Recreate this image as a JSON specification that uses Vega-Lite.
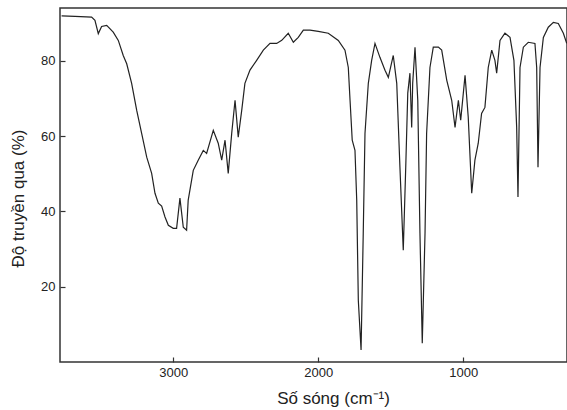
{
  "$schema": "https://vega.github.io/schema/vega-lite/v6.json",
  "width": 507,
  "height": 354,
  "autosize": {"type": "none"},
  "padding": {"left": 60, "top": 8, "right": 0, "bottom": 48},
  "background": "white",
  "config": {
    "view": {"stroke": "#333", "strokeWidth": 1.5},
    "font": "Liberation Sans"
  },
  "data": {
    "values": [
      {"wn": 3770, "t": 91.9}, {"wn": 3678, "t": 91.8}, {"wn": 3563, "t": 91.6}, {"wn": 3540, "t": 90.7},
      {"wn": 3517, "t": 87.2}, {"wn": 3494, "t": 89.1}, {"wn": 3459, "t": 89.4}, {"wn": 3414, "t": 87.6},
      {"wn": 3379, "t": 85.4}, {"wn": 3345, "t": 81.4}, {"wn": 3321, "t": 79.2}, {"wn": 3287, "t": 74.0},
      {"wn": 3252, "t": 66.8}, {"wn": 3218, "t": 60.7}, {"wn": 3183, "t": 54.4}, {"wn": 3149, "t": 50.1},
      {"wn": 3126, "t": 44.8}, {"wn": 3103, "t": 42.2}, {"wn": 3080, "t": 41.4}, {"wn": 3057, "t": 38.5},
      {"wn": 3034, "t": 36.3}, {"wn": 3000, "t": 35.5}, {"wn": 2977, "t": 35.5}, {"wn": 2954, "t": 43.5},
      {"wn": 2931, "t": 35.8}, {"wn": 2908, "t": 35.0}, {"wn": 2897, "t": 43.0}, {"wn": 2862, "t": 50.9},
      {"wn": 2828, "t": 53.6}, {"wn": 2793, "t": 56.2}, {"wn": 2770, "t": 55.4}, {"wn": 2724, "t": 61.5},
      {"wn": 2690, "t": 58.1}, {"wn": 2666, "t": 53.6}, {"wn": 2643, "t": 58.9}, {"wn": 2621, "t": 50.1},
      {"wn": 2597, "t": 60.7}, {"wn": 2574, "t": 69.5}, {"wn": 2552, "t": 59.7}, {"wn": 2528, "t": 66.8},
      {"wn": 2506, "t": 74.0}, {"wn": 2471, "t": 77.5}, {"wn": 2425, "t": 80.1}, {"wn": 2379, "t": 82.8},
      {"wn": 2333, "t": 84.6}, {"wn": 2287, "t": 84.6}, {"wn": 2252, "t": 85.4}, {"wn": 2207, "t": 87.3},
      {"wn": 2172, "t": 84.9}, {"wn": 2138, "t": 86.2}, {"wn": 2103, "t": 88.1}, {"wn": 2057, "t": 88.1},
      {"wn": 2000, "t": 87.8}, {"wn": 1931, "t": 87.3}, {"wn": 1862, "t": 85.4}, {"wn": 1816, "t": 82.8},
      {"wn": 1793, "t": 78.2}, {"wn": 1781, "t": 69.5}, {"wn": 1766, "t": 58.9}, {"wn": 1747, "t": 56.2},
      {"wn": 1735, "t": 43.0}, {"wn": 1724, "t": 16.4}, {"wn": 1705, "t": 3.2}, {"wn": 1690, "t": 34.2},
      {"wn": 1678, "t": 60.7}, {"wn": 1655, "t": 74.0}, {"wn": 1632, "t": 80.1}, {"wn": 1609, "t": 84.6},
      {"wn": 1575, "t": 80.9}, {"wn": 1540, "t": 77.5}, {"wn": 1517, "t": 75.6}, {"wn": 1483, "t": 81.4},
      {"wn": 1459, "t": 74.0}, {"wn": 1437, "t": 51.7}, {"wn": 1414, "t": 29.7}, {"wn": 1397, "t": 51.7},
      {"wn": 1383, "t": 71.4}, {"wn": 1368, "t": 76.7}, {"wn": 1356, "t": 62.3}, {"wn": 1349, "t": 74.0},
      {"wn": 1333, "t": 83.6}, {"wn": 1314, "t": 69.5}, {"wn": 1299, "t": 34.2}, {"wn": 1283, "t": 5.0},
      {"wn": 1264, "t": 34.2}, {"wn": 1253, "t": 60.7}, {"wn": 1230, "t": 78.2}, {"wn": 1207, "t": 83.6},
      {"wn": 1172, "t": 83.6}, {"wn": 1149, "t": 82.8}, {"wn": 1114, "t": 74.8}, {"wn": 1080, "t": 69.5},
      {"wn": 1057, "t": 62.3}, {"wn": 1034, "t": 69.5}, {"wn": 1018, "t": 64.2}, {"wn": 988, "t": 76.1},
      {"wn": 966, "t": 65.0}, {"wn": 942, "t": 44.8}, {"wn": 920, "t": 53.6}, {"wn": 897, "t": 58.1},
      {"wn": 874, "t": 66.0}, {"wn": 851, "t": 67.6}, {"wn": 828, "t": 78.2}, {"wn": 804, "t": 82.8},
      {"wn": 782, "t": 80.1}, {"wn": 770, "t": 76.7}, {"wn": 747, "t": 85.4}, {"wn": 713, "t": 87.3},
      {"wn": 678, "t": 86.2}, {"wn": 651, "t": 80.1}, {"wn": 632, "t": 62.3}, {"wn": 623, "t": 43.8},
      {"wn": 609, "t": 78.2}, {"wn": 586, "t": 83.6}, {"wn": 552, "t": 84.9}, {"wn": 506, "t": 84.6},
      {"wn": 494, "t": 78.2}, {"wn": 485, "t": 51.7}, {"wn": 471, "t": 78.2}, {"wn": 448, "t": 86.2},
      {"wn": 414, "t": 88.9}, {"wn": 379, "t": 90.2}, {"wn": 345, "t": 89.9}, {"wn": 310, "t": 87.3},
      {"wn": 287, "t": 84.6}
    ]
  },
  "mark": {"type": "line", "color": "#222", "strokeWidth": 1.2, "clip": true},
  "encoding": {
    "x": {
      "field": "wn", "type": "quantitative",
      "scale": {"domain": [285, 3781], "reverse": true, "nice": false, "zero": false},
      "axis": {
        "values": [3000, 2000, 1000], "format": "d", "grid": false, "domain": false,
        "offset": -5, "tickSize": 5, "tickColor": "#333", "tickWidth": 1.2, "labelPadding": 4,
        "labelFontSize": 13, "labelColor": "#222",
        "title": "Số sóng (cm⁻¹)", "titleFontSize": 17, "titleFontWeight": "normal",
        "titleColor": "#222", "titleX": 273, "titleY": 46, "titleBaseline": "alphabetic"
      }
    },
    "y": {
      "field": "t", "type": "quantitative",
      "scale": {"domain": [0, 94], "nice": false},
      "axis": {
        "values": [20, 40, 60, 80], "grid": false, "domain": false,
        "offset": -5, "tickSize": 5, "tickColor": "#333", "tickWidth": 1.2, "labelPadding": 5,
        "labelFontSize": 13, "labelColor": "#222",
        "title": "Độ truyền qua (%)", "titleFontSize": 17, "titleFontWeight": "normal",
        "titleColor": "#222", "titleX": -47, "titleY": 190, "titleAngle": 270,
        "titleBaseline": "middle", "titleAlign": "center"
      }
    }
  }
}
